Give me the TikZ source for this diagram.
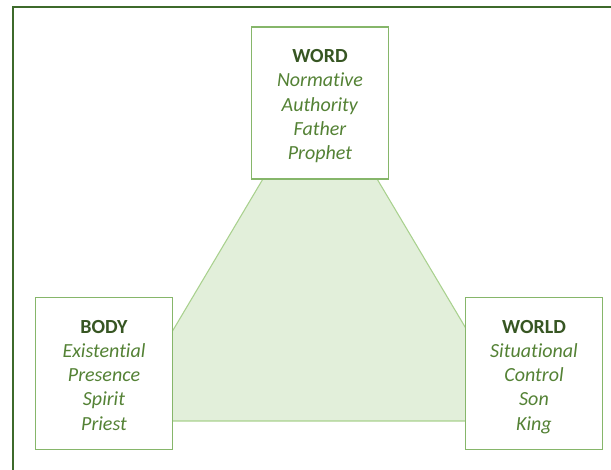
\documentclass[tikz,border=0pt]{standalone}
\usepackage{fontspec}
\setmainfont[Ligatures=NoCommon]{Carlito}
\definecolor{framegreen}{HTML}{3E6A2B}
\definecolor{boxgreen}{HTML}{86B66A}
\definecolor{trifill}{HTML}{E2EFDA}
\definecolor{tridraw}{HTML}{A9D18E}
\definecolor{headgreen}{HTML}{375623}
\definecolor{itgreen}{HTML}{548235}
\tikzset{
  pillar/.style={draw=boxgreen, line width=1pt, fill=white, rectangle,
    minimum width=103pt, minimum height=114pt, inner sep=0pt,
    align=center, font=\fontsize{15}{18.2}\selectfont},
}
\newcommand{\hd}[1]{\textcolor{headgreen}{\textbf{#1}}}
\newcommand{\itl}[1]{\textcolor{itgreen}{\textit{#1}}}
% centred column of lines, set a little low in its box
\newcommand{\linestack}[1]{\raisebox{-6pt}[0pt][0pt]{\begin{tabular}{@{}c@{}}#1\end{tabular}}}
\begin{document}
\begin{tikzpicture}[x=0.75pt, y=-0.75pt]
  \useasboundingbox (0,0) rectangle (611,470);
  \begin{scope}
    \clip (0,0) rectangle (611,470);
    % outer frame, running past the lower and right edges
    \draw[framegreen, line width=1.2pt] (13,7) rectangle (640,500);
  \end{scope}
  % shaded triangle joining the three boxes
  \coordinate (apex) at (320,83);
  \coordinate (bl) at (119,421);
  \coordinate (br) at (521,421);
  \draw[tridraw, fill=trifill, line width=0.8pt, line join=round] (apex) -- (bl) -- (br) -- cycle;
  % the three boxes
  \node[pillar] (word) at (320,103) {\linestack{\hd{WORD}\\ \itl{Normative}\\ \itl{Authority}\\ \itl{Father}\\ \itl{Prophet}}};
  \node[pillar] (body) at (104,373.5) {\linestack{\hd{BODY}\\ \itl{Existential}\\ \itl{Presence}\\ \itl{Spirit}\\ \itl{Priest}}};
  \node[pillar] (world) at (534,373.5) {\linestack{\hd{WORLD}\\ \itl{Situational}\\ \itl{Control}\\ \itl{Son}\\ \itl{King}}};
\end{tikzpicture}
\end{document}
